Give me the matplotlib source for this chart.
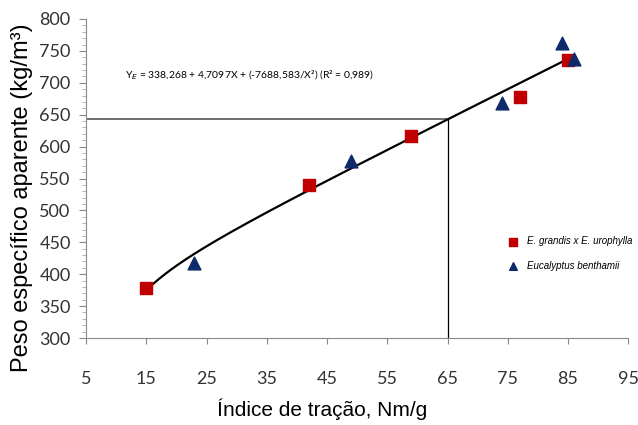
import matplotlib
matplotlib.use('Agg')
import matplotlib.pyplot as plt
import numpy as np
from matplotlib.ticker import MultipleLocator

# data
x_grandis = [15, 42, 59, 77, 85]
y_grandis = [379, 540, 616, 678, 735]
x_benth = [23, 49, 74, 84, 86]
y_benth = [418, 577, 668, 762, 737]

# fitted equation shown on the chart
b0, b1, b2 = 338.268, 4.7097, -7688.583
x_ref = 65

fig = plt.figure(figsize=(6.38, 4.25), dpi=100)
ax = fig.add_axes([0.1348, 0.2047, 0.850, 0.7506])

xf = np.linspace(16, 85, 200)
yf = b0 + b1 * xf + b2 / xf**2
ax.plot(xf, yf, color='black', lw=1.6, zorder=2)

y_ref = b0 + b1 * x_ref + b2 / x_ref**2
ax.plot([5, x_ref], [y_ref, y_ref], color='#555555', lw=1.2, zorder=1)
ax.plot([x_ref, x_ref], [300, y_ref], color='black', lw=0.9, zorder=1)

ax.scatter(x_grandis, y_grandis, marker='s', s=85, color='#c00000', zorder=3,
           label='E. grandis x E. urophylla')
ax.scatter(x_benth, y_benth, marker='^', s=85, color='#0d2a6b', zorder=3,
           label='Eucalyptus benthamii')

ax.set_xlim(5, 95)
ax.set_ylim(300, 800)
ax.set_xticks(np.arange(5, 96, 10))
ax.set_yticks(np.arange(300, 801, 50))
ax.yaxis.set_minor_locator(MultipleLocator(10))

for s in ['top', 'right']:
    ax.spines[s].set_visible(False)
for s in ['left', 'bottom']:
    ax.spines[s].set_color('#888888')

ax.tick_params(axis='y', which='major', length=5, color='#888888', labelsize=13, pad=6)
ax.tick_params(axis='y', which='minor', length=3, color='#aaaaaa')
ax.tick_params(axis='x', which='major', length=4, color='#888888', labelsize=13, pad=20)
for t in ax.get_xticklabels() + ax.get_yticklabels():
    t.set_family(['Lato', 'DejaVu Sans'])
    t.set_color('#333333')

ax.set_ylabel('Peso específico aparente (kg/m³)', fontsize=17,
              family=['Liberation Sans', 'DejaVu Sans'])
ax.yaxis.set_label_coords(-0.097, 0.44)
ax.set_xlabel('Índice de tração, Nm/g', fontsize=15,
              family=['Liberation Sans', 'DejaVu Sans'])
ax.xaxis.set_label_coords(0.435, -0.19)

ax.text(0.196, 0.815, 'Y$_E$ = 338,268 + 4,7097X + (-7688,583/X²) (R² = 0,989)',
        transform=fig.transFigure, fontsize=7.5, family=['Lato', 'DejaVu Sans'])

fig.legend(loc='upper left', bbox_to_anchor=(0.775, 0.465), frameon=False,
           prop={'style': 'italic', 'size': 7, 'family': ['Liberation Sans', 'DejaVu Sans']},
           markerscale=0.6, handletextpad=0.4, labelspacing=1.5)

fig.savefig('out.png', dpi=100)
